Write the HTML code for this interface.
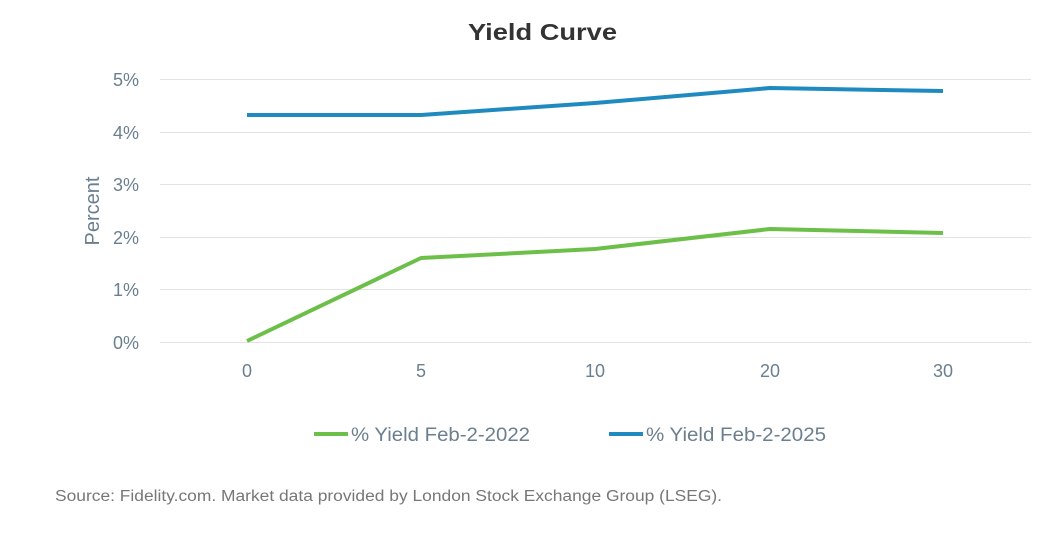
<!DOCTYPE html>
<html><head><meta charset="utf-8"><style>
html,body{margin:0;padding:0;background:#fff;}
body{width:1061px;height:535px;overflow:hidden;font-family:"Liberation Sans",sans-serif;}
</style></head><body>
<svg width="1061" height="535" xmlns="http://www.w3.org/2000/svg" font-family="Liberation Sans, sans-serif">
<text x="468" y="40" textLength="149" lengthAdjust="spacingAndGlyphs" font-size="23" font-weight="bold" fill="#333">Yield Curve</text>
<g stroke="#e3e3e3" stroke-width="1">
<line x1="160" y1="79.5" x2="1031" y2="79.5"/>
<line x1="160" y1="132.5" x2="1031" y2="132.5"/>
<line x1="160" y1="184.5" x2="1031" y2="184.5"/>
<line x1="160" y1="237.5" x2="1031" y2="237.5"/>
<line x1="160" y1="289.5" x2="1031" y2="289.5"/>
<line x1="160" y1="342.5" x2="1031" y2="342.5"/>
</g>
<g fill="#6b7f8e" font-size="18" text-anchor="end">
<text x="139" y="86">5%</text>
<text x="139" y="139">4%</text>
<text x="139" y="191">3%</text>
<text x="139" y="244">2%</text>
<text x="139" y="296">1%</text>
<text x="139" y="349">0%</text>
</g>
<text transform="translate(99,211) rotate(-90)" text-anchor="middle" font-size="20" fill="#6b7f8e">Percent</text>
<g fill="#6b7f8e" font-size="18" text-anchor="middle">
<text x="247" y="377">0</text>
<text x="421" y="377">5</text>
<text x="595" y="377">10</text>
<text x="770" y="377">20</text>
<text x="943" y="377">30</text>
</g>
<polyline fill="none" stroke="#1f8ac0" stroke-width="4" stroke-linejoin="round" points="247,115 421,115 595,103 770,88 943,91"/>
<polyline fill="none" stroke="#6cc04a" stroke-width="4" stroke-linejoin="round" points="247,341 421,258 595,249 770,229 943,233"/>
<line x1="314" y1="434" x2="348" y2="434" stroke="#6cc04a" stroke-width="4"/>
<text x="351" y="441" textLength="179" lengthAdjust="spacingAndGlyphs" font-size="19" fill="#6b7f8e">% Yield Feb-2-2022</text>
<line x1="609" y1="434" x2="643" y2="434" stroke="#1f8ac0" stroke-width="4"/>
<text x="646" y="441" textLength="180" lengthAdjust="spacingAndGlyphs" font-size="19" fill="#6b7f8e">% Yield Feb-2-2025</text>
<text x="55" y="501" textLength="667" lengthAdjust="spacingAndGlyphs" font-size="15.5" fill="#777">Source: Fidelity.com. Market data provided by London Stock Exchange Group (LSEG).</text>
</svg>
</body></html>
